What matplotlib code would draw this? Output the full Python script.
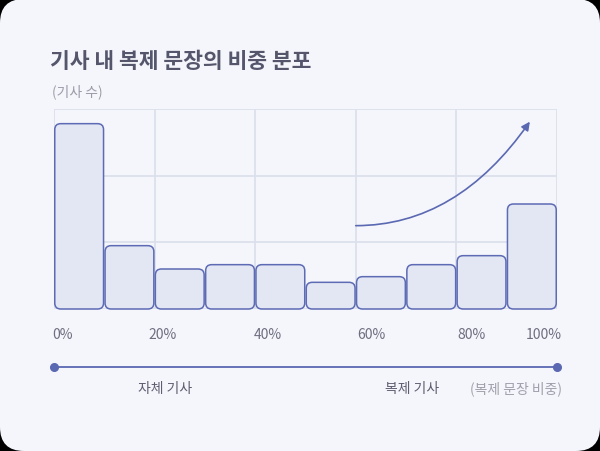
import matplotlib
matplotlib.use("Agg")
import matplotlib.pyplot as plt
from matplotlib.patches import FancyBboxPatch, FancyArrowPatch
from matplotlib.transforms import offset_copy
import numpy as np

plt.rcParams['font.family'] = ['Noto Sans CJK KR', 'DejaVu Sans']

# ---- data ----
bin_starts = [0, 10, 20, 30, 40, 50, 60, 70, 80, 90]
bin_width = 10
counts = [2.78, 0.95, 0.60, 0.665, 0.665, 0.40, 0.485, 0.665, 0.80, 1.575]
tick_values = [0, 20, 40, 60, 80, 100]
tick_labels = ["0%", "20%", "40%", "60%", "80%", "100%"]
title = "기사 내 복제 문장의 비중 분포"
y_label = "(기사 수)"
left_label = "자체 기사"
right_label = "복제 기사"
axis_note = "(복제 문장 비중)"
arrow_start = (60, 1.25)
arrow_end = (94.6, 2.81)

W, H = 600, 452
fig = plt.figure(figsize=(W / 100, H / 100), dpi=100)
fig.patch.set_facecolor("black")

# card background with rounded corners (pixel units)
card = FancyBboxPatch((0, 0), W, H, boxstyle="round,pad=0,rounding_size=24",
                      transform=None, facecolor="#F4F6FB", edgecolor="none",
                      zorder=-100)
fig.patches.append(card)

px = lambda x: x / W
py = lambda y: 1 - y / H

ax_left, ax_right, ax_top, ax_bottom = 54, 557, 110, 310
ax = fig.add_axes([px(ax_left), py(ax_bottom), (ax_right - ax_left) / W,
                   (ax_bottom - ax_top) / H], zorder=5)
ax.set_facecolor("none")
ax.patch.set_alpha(0)
ax.set_xlim(0, 100)
ax.set_ylim(0, 3)

grid_c = "#DCE0EC"
for v in tick_values:
    ax.axvline(v, color=grid_c, lw=1.3, zorder=1)
for v in [0, 1, 2, 3]:
    ax.axhline(v, color=grid_c, lw=1.3, zorder=1)
for s in ax.spines.values():
    s.set_visible(False)
ax.set_xticks([])
ax.set_yticks([])

# bars
xu_per_px = 100 / (ax_right - ax_left)
yu_per_px = 3 / (ax_bottom - ax_top)
aspect = yu_per_px / xu_per_px
radius = 6 * xu_per_px
inset = 0.15
for x0, c in zip(bin_starts, counts):
    p = FancyBboxPatch((x0 + inset, 0.0), bin_width - 2 * inset, c,
                       boxstyle=f"round,pad=0,rounding_size={radius}",
                       mutation_aspect=aspect,
                       facecolor="#E3E7F4", edgecolor="#5D6AB4", lw=1.1,
                       zorder=3, clip_on=False)
    ax.add_patch(p)

# arrow
arr = FancyArrowPatch(arrow_start, arrow_end,
                      connectionstyle="angle3,angleA=0,angleB=55",
                      arrowstyle="-|>,head_length=5,head_width=2.5",
                      color="#5B68B2", lw=1.2, zorder=4, shrinkA=0, shrinkB=0)
ax.add_patch(arr)

# tick labels (pixel nudges relative to the gridline position)
tick_c = "#6E6E80"
nudges = [-2, -6, -1, 1, 1, 5]
for v, lab, dx in zip(tick_values, tick_labels, nudges):
    tr = offset_copy(ax.transData, fig=fig, x=dx, y=0, units="dots")
    ha = "right" if v == 100 else "left"
    ax.text(v, -0.38, lab, ha=ha, va="center", fontsize=10,
            color=tick_c, clip_on=False, transform=tr)

# title and y label
fig.text(px(50), py(61), title, fontsize=15.5, fontweight="bold",
         color="#55566C", ha="left", va="center")
fig.text(px(52.5), py(92), y_label, fontsize=10, color="#9C9CA8",
         ha="left", va="center")

# bottom axis line with dots
line_y = py(367.5)
fig.add_artist(plt.Line2D([px(ax_left), px(ax_right)], [line_y, line_y],
                          color="#5B68B2", lw=1.3))
fig.add_artist(plt.Line2D([px(ax_left), px(ax_right)], [line_y, line_y],
                          color="#5B68B2", lw=0, marker="o", markersize=5.5))

fig.text(px(165), py(389), left_label, fontsize=10, color="#5E5E70",
         ha="center", va="center")
fig.text(px(412), py(389), right_label, fontsize=10, color="#5E5E70",
         ha="center", va="center")
fig.text(px(516), py(389), axis_note, fontsize=10, color="#A0A0AC",
         ha="center", va="center")

fig.savefig("out.png", dpi=100, facecolor=fig.get_facecolor())
